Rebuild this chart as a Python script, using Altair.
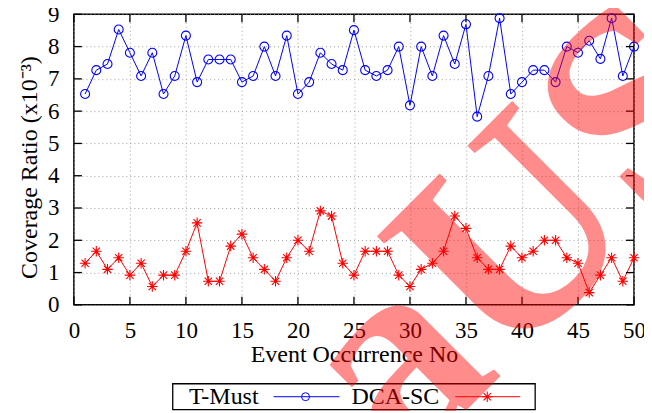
import altair as alt
import pandas as pd

# ---------------- data ----------------
events = list(range(1, 51))
t_must = [6.53, 7.27, 7.46, 8.53, 7.81, 7.09, 7.81, 6.53, 7.09, 8.34,
          6.90, 7.60, 7.60, 7.60, 6.90, 7.09, 8.00, 7.09, 8.34, 6.53,
          6.90, 7.81, 7.46, 7.27, 8.51, 7.27, 7.09, 7.27, 8.00, 6.18,
          8.00, 7.09, 8.34, 7.46, 8.69, 5.83, 7.09, 8.88, 6.53, 6.90,
          7.27, 7.27, 6.90, 8.00, 7.81, 8.18, 7.62, 8.88, 7.09, 8.00]
dca_sc = [1.29, 1.66, 1.10, 1.46, 0.92, 1.29, 0.57, 0.92, 0.92, 1.66,
          2.54, 0.73, 0.73, 1.82, 2.19, 1.46, 1.10, 0.73, 1.46, 2.00,
          1.66, 2.91, 2.75, 1.29, 0.92, 1.66, 1.66, 1.66, 0.92, 0.57,
          1.10, 1.29, 1.66, 2.75, 2.37, 1.46, 1.10, 1.10, 1.82, 1.46,
          1.66, 2.00, 2.00, 1.46, 1.29, 0.38, 0.92, 1.46, 0.73, 1.46]
series_names = ["T-Must", "DCA-SC"]
series_colors = ["#0000ff", "#ff0000"]
x_ticks = [0, 5, 10, 15, 20, 25, 30, 35, 40, 45, 50]
y_ticks = [0, 1, 2, 3, 4, 5, 6, 7, 8, 9]
x_title = "Event Occurrence No"
y_title = "Coverage Ratio (x10\u207b\u00b3)"
watermark_text = "aUS"

# ---------------- styling ----------------
W, H = 561, 291
FONT = "Liberation Serif"
FS = 23      # tick labels
TFS = 24     # titles and legend
STAR = "M-1,0L1,0M0,-1L0,1M-0.7,-0.7L0.7,0.7M-0.7,0.7L0.7,-0.7"

df = pd.DataFrame({
    "event": events * 2,
    "value": t_must + dca_sc,
    "series": [series_names[0]] * len(t_must) + [series_names[1]] * len(dca_sc),
})

xscale = alt.Scale(domain=[0, 50], nice=False, zero=False)
yscale = alt.Scale(domain=[0, 9], nice=False)
cscale = alt.Scale(domain=series_names, range=series_colors)

x_axis = alt.Axis(values=x_ticks, tickSize=0, domain=False, labelPadding=15,
                  labelFont=FONT, labelFontSize=FS, labelColor="black",
                  grid=True, gridDash=[1, 3], gridColor="#a0a0a0", gridWidth=1,
                  title=x_title, titleFont=FONT, titleFontSize=TFS,
                  titleFontWeight="normal", titleColor="black", titlePadding=0,
                  labelFlush=False)
y_axis = alt.Axis(values=y_ticks, tickSize=0, domain=False, labelPadding=15,
                  labelFont=FONT, labelFontSize=FS, labelColor="black",
                  grid=True, gridDash=[1, 3], gridColor="#a0a0a0", gridWidth=1,
                  title=y_title, titleFont=FONT, titleFontSize=TFS,
                  titleFontWeight="normal", titleColor="black", titlePadding=6,
                  titleY=153, labelFlush=False)

base = alt.Chart(df)

lines = base.mark_line(strokeWidth=1).encode(
    x=alt.X("event:Q", scale=xscale, axis=x_axis),
    y=alt.Y("value:Q", scale=yscale, axis=y_axis),
    color=alt.Color("series:N", scale=cscale, legend=None),
    detail="series:N",
)

points = base.mark_point(filled=False, strokeWidth=1.1, opacity=1).encode(
    x=alt.X("event:Q", scale=xscale, axis=x_axis),
    y=alt.Y("value:Q", scale=yscale, axis=y_axis),
    color=alt.Color("series:N", scale=cscale, legend=None),
    shape=alt.Shape("series:N", scale=alt.Scale(domain=series_names, range=["circle", STAR]), legend=None),
    size=alt.Size("series:N", scale=alt.Scale(domain=series_names, range=[81, 110]), legend=None),
)

xt = pd.DataFrame({"event": x_ticks})
yt = pd.DataFrame({"value": y_ticks})
tick_style = dict(color="black", strokeWidth=1.3)
xt_bottom = alt.Chart(xt).mark_rule(**tick_style).encode(
    x=alt.X("event:Q", scale=xscale, axis=x_axis), y=alt.value(H), y2=alt.value(H - 8))
xt_top = alt.Chart(xt).mark_rule(**tick_style).encode(
    x=alt.X("event:Q", scale=xscale, axis=x_axis), y=alt.value(0), y2=alt.value(8))
yt_left = alt.Chart(yt).mark_rule(**tick_style).encode(
    y=alt.Y("value:Q", scale=yscale, axis=y_axis), x=alt.value(0), x2=alt.value(8))
yt_right = alt.Chart(yt).mark_rule(**tick_style).encode(
    y=alt.Y("value:Q", scale=yscale, axis=y_axis), x=alt.value(W - 8), x2=alt.value(W))

# ---------------- legend (drawn manually, label left of symbol) ----------------
LY = 383
leg_df = pd.DataFrame({"name": series_names})
leg_box = alt.Chart(leg_df.head(1)).mark_rect(fill="white", stroke="black", strokeWidth=1.3).encode(
    x=alt.value(99), x2=alt.value(462), y=alt.value(370), y2=alt.value(396))
leg_t1 = alt.Chart(leg_df.iloc[[0]]).mark_text(font=FONT, fontSize=TFS, align="right", baseline="middle", color="black").encode(
    text="name:N", x=alt.value(185), y=alt.value(LY))
leg_t2 = alt.Chart(leg_df.iloc[[1]]).mark_text(font=FONT, fontSize=TFS, align="right", baseline="middle", color="black").encode(
    text="name:N", x=alt.value(366), y=alt.value(LY))
leg_l1 = alt.Chart(leg_df.iloc[[0]]).mark_rule(color=series_colors[0], strokeWidth=1).encode(
    x=alt.value(200), x2=alt.value(266), y=alt.value(LY))
leg_l2 = alt.Chart(leg_df.iloc[[1]]).mark_rule(color=series_colors[1], strokeWidth=1).encode(
    x=alt.value(382), x2=alt.value(447), y=alt.value(LY))
leg_p1 = alt.Chart(leg_df.iloc[[0]]).mark_point(shape="circle", filled=False, size=64, strokeWidth=1, color=series_colors[0], opacity=1).encode(
    x=alt.value(232), y=alt.value(LY))
leg_p2 = alt.Chart(leg_df.iloc[[1]]).mark_point(shape=STAR, filled=False, size=110, strokeWidth=1.1, color=series_colors[1], opacity=1).encode(
    x=alt.value(414), y=alt.value(LY))

# ---------------- watermark ----------------
wm = alt.Chart(pd.DataFrame({"w": [watermark_text]})).mark_text(
    font=FONT, fontSize=285, fontWeight="bold", angle=315, color="#ff0000",
    opacity=0.45, align="center", baseline="middle").encode(
    text="w:N", x=alt.value(448), y=alt.value(220))

chart = alt.layer(
    lines, points, xt_bottom, xt_top, yt_left, yt_right,
    leg_box, leg_t1, leg_t2, leg_l1, leg_l2, leg_p1, leg_p2, wm,
).properties(
    width=W, height=H,
    autosize=alt.AutoSizeParams(type="none"),
    padding={"left": 66, "top": 6, "right": 10, "bottom": 106},
).configure_view(stroke="black", strokeWidth=1.5)

chart.save("out.html", embed_options={"renderer": "svg", "actions": False})
